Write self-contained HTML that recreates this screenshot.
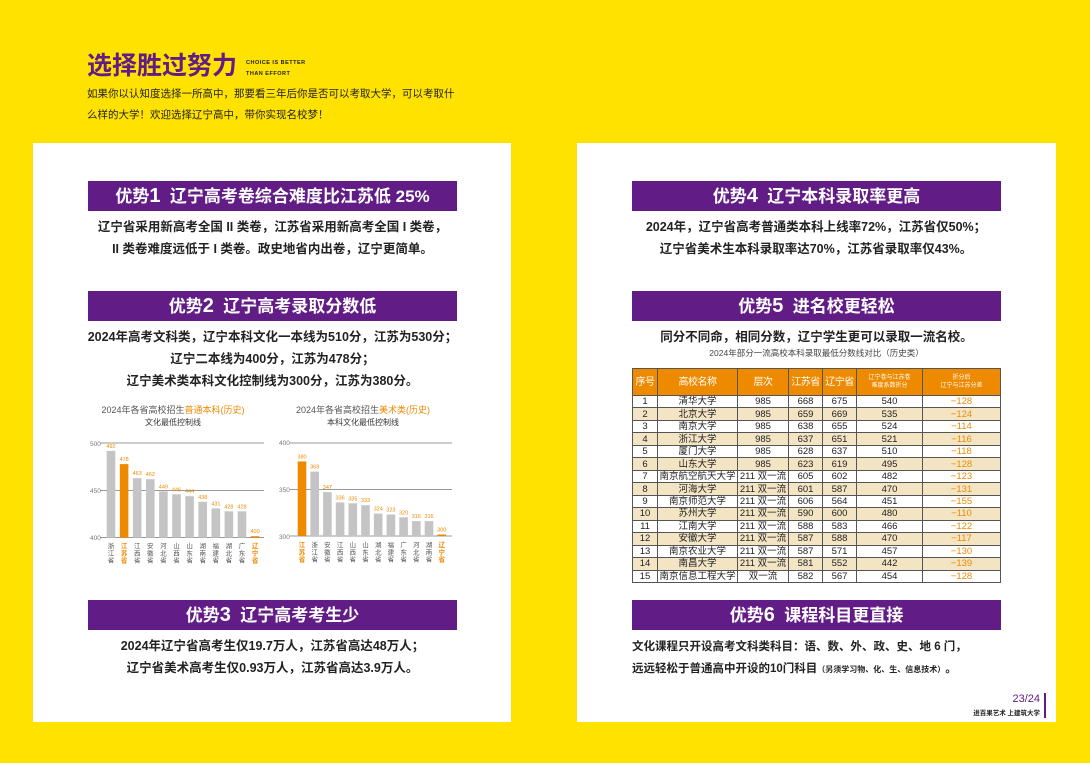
<!DOCTYPE html>
<html><head><meta charset="utf-8"><style>
*{margin:0;padding:0;box-sizing:border-box}
body{width:1090px;height:763px;background:#FFE200;position:relative;overflow:hidden;font-family:"Liberation Sans","Noto Sans CJK SC",sans-serif;color:#222}
.a{position:absolute}
.panel{background:#fff;position:absolute;top:143px;height:579px}
.bar{position:absolute;height:30px;background:#621C86;color:#fff;font-weight:bold;font-size:17px;text-align:center;line-height:30px;width:369px}
.bar b{font-size:20px}
.t{position:absolute;font-weight:bold;font-size:12.5px;text-align:center;line-height:22px}
table{border-collapse:collapse;font-size:9.5px;position:absolute;left:632px;top:368px;width:368px;table-layout:fixed}
td,th{border:1px solid #555;text-align:center;height:12.47px;line-height:11px;padding:0;white-space:nowrap;overflow:hidden}
th{background:#EE8A00;color:#fff;height:27px;font-weight:normal;font-size:10px;letter-spacing:-0.5px}
th.s{font-size:6px;line-height:8px;letter-spacing:0}
tr:nth-child(odd) td{background:#F3E4C4}
td.o{color:#EE8A00}
</style></head><body>
<div class="a" style="left:87px;top:46px;font-size:25px;font-weight:bold;color:#621C86">选择胜过努力</div>
<div class="a" style="left:246px;top:58px;font-size:5.5px;line-height:11px;font-weight:bold;letter-spacing:.5px">CHOICE IS BETTER<br>THAN EFFORT</div>
<div class="a" style="left:87px;top:84px;font-size:10.5px;line-height:21px">如果你以认知度选择一所高中，那要看三年后你是否可以考取大学，可以考取什<br>么样的大学！欢迎选择辽宁高中，带你实现名校梦！</div>
<div class="panel" style="left:33px;width:478px"></div>
<div class="panel" style="left:577px;width:479px"></div>

<div class="bar" style="left:88px;top:181px">优势<b>1</b>&nbsp; 辽宁高考卷综合难度比江苏低 25%</div>
<div class="t" style="left:88px;top:216px;width:369px">辽宁省采用新高考全国 II 类卷，江苏省采用新高考全国 I 类卷，<br>II 类卷难度远低于 I 类卷。政史地省内出卷，辽宁更简单。</div>
<div class="bar" style="left:88px;top:291px">优势<b>2</b>&nbsp; 辽宁高考录取分数低</div>
<div class="t" style="left:80px;top:326px;width:385px">2024年高考文科类，辽宁本科文化一本线为510分，江苏为530分；<br>辽宁二本线为400分，江苏为478分；<br>辽宁美术类本科文化控制线为300分，江苏为380分。</div>

<svg class="a" style="left:0;top:0" width="520" height="600" font-family="Liberation Sans,Noto Sans CJK SC,sans-serif">
<text x="173" y="413" font-size="9" text-anchor="middle" fill="#555">2024年各省高校招生<tspan fill="#EE8A00">普通本科(历史)</tspan></text>
<text x="173" y="425" font-size="8" text-anchor="middle" fill="#333">文化最低控制线</text>
<text x="363" y="413" font-size="9" text-anchor="middle" fill="#555">2024年各省高校招生<tspan fill="#EE8A00">美术类(历史)</tspan></text>
<text x="363" y="425" font-size="8" text-anchor="middle" fill="#333">本科文化最低控制线</text>
<g stroke="#999" stroke-width="1">
<line x1="100" x2="264" y1="443" y2="443"/><line x1="100" x2="264" y1="490.5" y2="490.5"/><line x1="100" x2="264" y1="537.5" y2="537.5"/>
<line x1="290" x2="452" y1="443" y2="443"/><line x1="290" x2="452" y1="489.5" y2="489.5"/><line x1="290" x2="452" y1="536" y2="536"/>
</g>
<g font-size="6.5" fill="#777"><text x="90" y="446">500</text><text x="90" y="493">450</text><text x="90" y="540">400</text>
<text x="279" y="445">400</text><text x="279" y="492">350</text><text x="279" y="539">300</text></g>
<g fill="#C4C4C4">
<rect x="106.7" y="450.9" width="8.6" height="86.8"/>
<rect x="119.8" y="464.1" width="8.6" height="73.6" fill="#EE8A00"/>
<rect x="132.9" y="478.2" width="8.6" height="59.5"/>
<rect x="146" y="479.2" width="8.6" height="58.5"/>
<rect x="159.1" y="491.4" width="8.6" height="46.3"/>
<rect x="172.2" y="494.3" width="8.6" height="43.4"/>
<rect x="185.3" y="496.2" width="8.6" height="41.5"/>
<rect x="198.4" y="501.8" width="8.6" height="35.9"/>
<rect x="211.5" y="508.4" width="8.6" height="29.3"/>
<rect x="224.6" y="511.3" width="8.6" height="26.4"/>
<rect x="237.7" y="511.3" width="8.6" height="26.4"/>
<rect x="250.8" y="536.2" width="8.6" height="1.5" fill="#EE8A00"/>
<rect x="297.7" y="461.4" width="8.6" height="74.6" fill="#EE8A00"/>
<rect x="310.4" y="471.6" width="8.6" height="64.4"/>
<rect x="323.1" y="492.1" width="8.6" height="43.9"/>
<rect x="335.8" y="502.4" width="8.6" height="33.6"/>
<rect x="348.5" y="503.3" width="8.6" height="32.7"/>
<rect x="361.2" y="505.2" width="8.6" height="30.8"/>
<rect x="373.9" y="513.6" width="8.6" height="22.4"/>
<rect x="386.6" y="514.5" width="8.6" height="21.5"/>
<rect x="399.3" y="517.3" width="8.6" height="18.7"/>
<rect x="412" y="521.1" width="8.6" height="14.9"/>
<rect x="424.7" y="521.1" width="8.6" height="14.9"/>
<rect x="437.4" y="534.5" width="8.6" height="1.5" fill="#EE8A00"/>
</g>
<g font-size="5.5" text-anchor="middle" fill="#EE8A00">
<text x="111" y="447.9">492</text><text x="124.1" y="461.1">478</text><text x="137.2" y="475.2">463</text><text x="150.3" y="476.2">462</text><text x="163.4" y="488.4">449</text><text x="176.5" y="491.3">446</text><text x="189.6" y="493.2">444</text><text x="202.7" y="498.8">438</text><text x="215.8" y="505.4">431</text><text x="228.9" y="508.3">428</text><text x="242" y="508.3">428</text><text x="255.1" y="533.2">400</text>
<text x="302" y="458.4">380</text><text x="314.7" y="468.6">369</text><text x="327.4" y="489.1">347</text><text x="340.1" y="499.4">336</text><text x="352.8" y="500.3">335</text><text x="365.5" y="502.2">333</text><text x="378.2" y="510.6">324</text><text x="390.9" y="511.5">323</text><text x="403.6" y="514.3">320</text><text x="416.3" y="518.1">316</text><text x="429" y="518.1">316</text><text x="441.7" y="531.5">300</text>
</g>
<g font-size="6.5" text-anchor="middle" fill="#555">
<text y="548"><tspan x="111">浙</tspan><tspan x="111" dy="7.3">江</tspan><tspan x="111" dy="7.3">省</tspan></text>
<text y="548" fill="#EE8A00" font-weight="bold"><tspan x="124.1">江</tspan><tspan x="124.1" dy="7.3">苏</tspan><tspan x="124.1" dy="7.3">省</tspan></text>
<text y="548"><tspan x="137.2">江</tspan><tspan x="137.2" dy="7.3">西</tspan><tspan x="137.2" dy="7.3">省</tspan></text>
<text y="548"><tspan x="150.3">安</tspan><tspan x="150.3" dy="7.3">徽</tspan><tspan x="150.3" dy="7.3">省</tspan></text>
<text y="548"><tspan x="163.4">河</tspan><tspan x="163.4" dy="7.3">北</tspan><tspan x="163.4" dy="7.3">省</tspan></text>
<text y="548"><tspan x="176.5">山</tspan><tspan x="176.5" dy="7.3">西</tspan><tspan x="176.5" dy="7.3">省</tspan></text>
<text y="548"><tspan x="189.6">山</tspan><tspan x="189.6" dy="7.3">东</tspan><tspan x="189.6" dy="7.3">省</tspan></text>
<text y="548"><tspan x="202.7">湖</tspan><tspan x="202.7" dy="7.3">南</tspan><tspan x="202.7" dy="7.3">省</tspan></text>
<text y="548"><tspan x="215.8">福</tspan><tspan x="215.8" dy="7.3">建</tspan><tspan x="215.8" dy="7.3">省</tspan></text>
<text y="548"><tspan x="228.9">湖</tspan><tspan x="228.9" dy="7.3">北</tspan><tspan x="228.9" dy="7.3">省</tspan></text>
<text y="548"><tspan x="242">广</tspan><tspan x="242" dy="7.3">东</tspan><tspan x="242" dy="7.3">省</tspan></text>
<text y="548" fill="#EE8A00" font-weight="bold"><tspan x="255.1">辽</tspan><tspan x="255.1" dy="7.3">宁</tspan><tspan x="255.1" dy="7.3">省</tspan></text>
<text y="547" fill="#EE8A00" font-weight="bold"><tspan x="302">江</tspan><tspan x="302" dy="7.3">苏</tspan><tspan x="302" dy="7.3">省</tspan></text>
<text y="547"><tspan x="314.7">浙</tspan><tspan x="314.7" dy="7.3">江</tspan><tspan x="314.7" dy="7.3">省</tspan></text>
<text y="547"><tspan x="327.4">安</tspan><tspan x="327.4" dy="7.3">徽</tspan><tspan x="327.4" dy="7.3">省</tspan></text>
<text y="547"><tspan x="340.1">江</tspan><tspan x="340.1" dy="7.3">西</tspan><tspan x="340.1" dy="7.3">省</tspan></text>
<text y="547"><tspan x="352.8">山</tspan><tspan x="352.8" dy="7.3">西</tspan><tspan x="352.8" dy="7.3">省</tspan></text>
<text y="547"><tspan x="365.5">山</tspan><tspan x="365.5" dy="7.3">东</tspan><tspan x="365.5" dy="7.3">省</tspan></text>
<text y="547"><tspan x="378.2">湖</tspan><tspan x="378.2" dy="7.3">北</tspan><tspan x="378.2" dy="7.3">省</tspan></text>
<text y="547"><tspan x="390.9">福</tspan><tspan x="390.9" dy="7.3">建</tspan><tspan x="390.9" dy="7.3">省</tspan></text>
<text y="547"><tspan x="403.6">广</tspan><tspan x="403.6" dy="7.3">东</tspan><tspan x="403.6" dy="7.3">省</tspan></text>
<text y="547"><tspan x="416.3">河</tspan><tspan x="416.3" dy="7.3">北</tspan><tspan x="416.3" dy="7.3">省</tspan></text>
<text y="547"><tspan x="429">湖</tspan><tspan x="429" dy="7.3">南</tspan><tspan x="429" dy="7.3">省</tspan></text>
<text y="547" fill="#EE8A00" font-weight="bold"><tspan x="441.7">辽</tspan><tspan x="441.7" dy="7.3">宁</tspan><tspan x="441.7" dy="7.3">省</tspan></text>
</g>
</svg>

<div class="bar" style="left:88px;top:600px">优势<b>3</b>&nbsp; 辽宁高考考生少</div>
<div class="t" style="left:88px;top:635px;width:369px">2024年辽宁省高考生仅19.7万人，江苏省高达48万人；<br>辽宁省美术高考生仅0.93万人，江苏省高达3.9万人。</div>

<div class="bar" style="left:632px;top:181px">优势<b>4</b>&nbsp; 辽宁本科录取率更高</div>
<div class="t" style="left:620px;top:216px;width:392px">2024年，辽宁省高考普通类本科上线率72%，江苏省仅50%；<br>辽宁省美术生本科录取率达70%，江苏省录取率仅43%。</div>
<div class="bar" style="left:632px;top:291px">优势<b>5</b>&nbsp; 进名校更轻松</div>
<div class="t" style="left:632px;top:326px;width:369px">同分不同命，相同分数，辽宁学生更可以录取一流名校。</div>
<div class="a" style="left:632px;top:347px;width:369px;text-align:center;font-size:8.5px;color:#444">2024年部分一流高校本科录取最低分数线对比（历史类）</div>
<table>
<colgroup><col style="width:25px"><col style="width:80px"><col style="width:51px"><col style="width:34px"><col style="width:34px"><col style="width:66px"><col style="width:78px"></colgroup>
<tr><th>序号</th><th>高校名称</th><th>层次</th><th>江苏省</th><th>辽宁省</th><th class="s">辽宁卷与江苏卷<br>难度系数折分</th><th class="s">折分后<br>辽宁与江苏分差</th></tr>
<tr><td>1</td><td>清华大学</td><td>985</td><td>668</td><td>675</td><td>540</td><td class="o">−128</td></tr>
<tr><td>2</td><td>北京大学</td><td>985</td><td>659</td><td>669</td><td>535</td><td class="o">−124</td></tr>
<tr><td>3</td><td>南京大学</td><td>985</td><td>638</td><td>655</td><td>524</td><td class="o">−114</td></tr>
<tr><td>4</td><td>浙江大学</td><td>985</td><td>637</td><td>651</td><td>521</td><td class="o">−116</td></tr>
<tr><td>5</td><td>厦门大学</td><td>985</td><td>628</td><td>637</td><td>510</td><td class="o">−118</td></tr>
<tr><td>6</td><td>山东大学</td><td>985</td><td>623</td><td>619</td><td>495</td><td class="o">−128</td></tr>
<tr><td>7</td><td>南京航空航天大学</td><td>211 双一流</td><td>605</td><td>602</td><td>482</td><td class="o">−123</td></tr>
<tr><td>8</td><td>河海大学</td><td>211 双一流</td><td>601</td><td>587</td><td>470</td><td class="o">−131</td></tr>
<tr><td>9</td><td>南京师范大学</td><td>211 双一流</td><td>606</td><td>564</td><td>451</td><td class="o">−155</td></tr>
<tr><td>10</td><td>苏州大学</td><td>211 双一流</td><td>590</td><td>600</td><td>480</td><td class="o">−110</td></tr>
<tr><td>11</td><td>江南大学</td><td>211 双一流</td><td>588</td><td>583</td><td>466</td><td class="o">−122</td></tr>
<tr><td>12</td><td>安徽大学</td><td>211 双一流</td><td>587</td><td>588</td><td>470</td><td class="o">−117</td></tr>
<tr><td>13</td><td>南京农业大学</td><td>211 双一流</td><td>587</td><td>571</td><td>457</td><td class="o">−130</td></tr>
<tr><td>14</td><td>南昌大学</td><td>211 双一流</td><td>581</td><td>552</td><td>442</td><td class="o">−139</td></tr>
<tr><td>15</td><td>南京信息工程大学</td><td>双一流</td><td>582</td><td>567</td><td>454</td><td class="o">−128</td></tr>
</table>

<div class="bar" style="left:632px;top:600px">优势<b>6</b>&nbsp; 课程科目更直接</div>
<div class="a" style="left:632px;top:636px;font-weight:bold;font-size:11.5px;line-height:22px">文化课程只开设高考文科类科目：语、数、外、政、史、地 6 门，<br>远远轻松于普通高中开设的10门科目<span style="font-size:8px">（另须学习物、化、生、信息技术）</span>。</div>
<div class="a" style="left:1000px;top:693px;width:40px;text-align:right;font-size:11px;color:#621C86">23/24</div>
<div class="a" style="left:940px;top:707px;width:100px;text-align:right;font-size:6.5px;font-weight:bold">进百果艺术 上建筑大学</div>
<div class="a" style="left:1044px;top:693px;width:2px;height:25px;background:#621C86"></div>
</body></html>
